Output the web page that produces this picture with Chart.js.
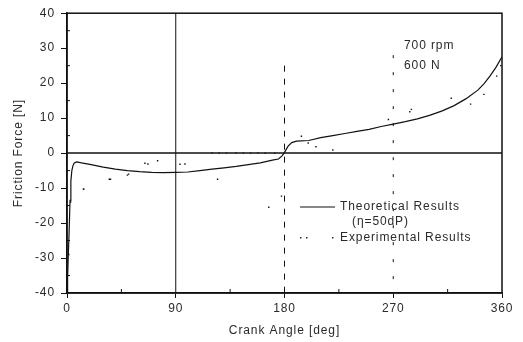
<!DOCTYPE html>
<html>
<head>
<meta charset="utf-8">
<script src="https://cdn.jsdelivr.net/npm/chart.js@4.4.1/dist/chart.umd.min.js"></script>
<style>
  html, body { margin: 0; padding: 0; background: #fff; }
  #wrap { width: 523px; height: 342px; }
</style>
</head>
<body>
<div id="wrap"><canvas id="myChart"></canvas></div>
<script>
// theoretical curve (crank angle, friction force)
const theoX = [0, 0.5, 1, 1.8, 2.5, 3.2, 4, 5, 6, 8, 12, 20, 30, 40, 50, 60, 70, 80, 90, 100, 110, 120, 130, 140, 150, 160, 170, 175, 178, 180, 183, 186, 190, 200, 210, 220, 230, 240, 250, 260, 270, 280, 290, 300, 310, 320, 330, 340, 345, 350, 355, 360];
const theoY = [-40, -36, -30, -22, -13.5, -8, -5, -3.5, -2.8, -2.5, -2.8, -3.3, -4.0, -4.6, -5.0, -5.3, -5.5, -5.6, -5.5, -5.4, -5.0, -4.6, -4.2, -3.8, -3.3, -2.8, -2.0, -1.7, -0.8, 0.2, 2.0, 3.0, 3.4, 3.6, 4.4, 5.0, 5.6, 6.2, 6.8, 7.6, 8.3, 9.0, 9.8, 10.8, 12.0, 13.5, 15.5, 18.0, 19.8, 22.0, 24.5, 27.5];

// experimental points
const expX = [1.5, 3, 14, 13.5, 35, 36, 50, 51, 64.5, 67, 75, 93.5, 97.6, 124.6, 167, 177.5, 120, 126, 132, 140, 146, 152, 158, 164, 172, 194, 199.6, 206, 220, 266, 283.7, 285, 318, 334, 345, 355.6, 359, 302, 307, 312, 318, 326, 130, 138, 148, 156, 162, 346, 352, 358];
const expY = [-29, -14, -10.3, -10.3, -7.5, -7.5, -6.3, -6, -2.9, -3.1, -2.2, -3.2, -3.1, -7.5, -15.5, -12.3, 0, 0, 0, 0, 0, 0, 0, 0, 0, 4.8, 2.9, 1.8, 0.9, 9.6, 11.8, 12.5, 15.7, 14, 16.8, 22, 25, 40, 40, 40, 40, 40, -40, -40, -40, -40, -40, -40, -40, -40];

const yTicks = [-40, -30, -20, -10, 0, 10, 20, 30, 40];
const xTicks = [0, 90, 180, 270, 360];
const xMinor = [45, 135, 225, 315];
const yMinor = [-35, -25, -15, -5, 5, 15, 25, 35];

const textColor = "#2a2a2a";
const fontFam = "'Liberation Sans', Arial, sans-serif";

const decor = {
  id: "decor",
  beforeDraw(chart) {
    chart.ctx.letterSpacing = "0.9px";
  },
  beforeDatasetsDraw(chart) {
    const { ctx, chartArea: a, scales: { x, y } } = chart;
    ctx.save();
    ctx.strokeStyle = "#111";
    // zero line
    ctx.lineWidth = 1.5;
    ctx.beginPath();
    ctx.moveTo(a.left, y.getPixelForValue(0));
    ctx.lineTo(a.right, y.getPixelForValue(0));
    ctx.stroke();
    // 90 deg line
    ctx.lineWidth = 1;
    ctx.beginPath();
    ctx.moveTo(x.getPixelForValue(90), a.top);
    ctx.lineTo(x.getPixelForValue(90), a.bottom);
    ctx.stroke();
    // 180 deg dashed
    ctx.setLineDash([6, 7]);
    ctx.beginPath();
    ctx.moveTo(x.getPixelForValue(180), y.getPixelForValue(25));
    ctx.lineTo(x.getPixelForValue(180), a.bottom);
    ctx.stroke();
    // 270 deg dashed
    ctx.setLineDash([3, 14]);
    ctx.beginPath();
    ctx.moveTo(x.getPixelForValue(270), y.getPixelForValue(28));
    ctx.lineTo(x.getPixelForValue(270), a.bottom);
    ctx.stroke();
    ctx.setLineDash([]);
    // minor inner ticks
    ctx.lineWidth = 1;
    xMinor.forEach(v => {
      const px = x.getPixelForValue(v);
      ctx.beginPath();
      ctx.moveTo(px, a.bottom);
      ctx.lineTo(px, a.bottom - 4);
      ctx.stroke();
    });
    yMinor.forEach(v => {
      const py = y.getPixelForValue(v);
      ctx.beginPath();
      ctx.moveTo(a.left, py);
      ctx.lineTo(a.left + 3, py);
      ctx.stroke();
    });
    ctx.restore();
  },
  afterDraw(chart) {
    const { ctx, chartArea: a } = chart;
    ctx.save();
    ctx.strokeStyle = "#111";
    ctx.lineWidth = 1.5;
    ctx.strokeRect(a.left, a.top, a.right - a.left, a.bottom - a.top);

    ctx.fillStyle = textColor;
    ctx.font = "12px " + fontFam;
    ctx.letterSpacing = "0.9px";
    ctx.textBaseline = "middle";
    ctx.fillText("700 rpm", 404, 46);
    ctx.fillText("600 N", 404, 66);

    // legend
    ctx.lineWidth = 1.2;
    ctx.beginPath();
    ctx.moveTo(300, 207);
    ctx.lineTo(335, 207);
    ctx.stroke();
    ctx.fillText("Theoretical Results", 340, 207);
    ctx.fillText("(\u03b7=50dP)", 352, 222);
    [300, 306, 332].forEach(px => ctx.fillRect(px, 237, 1.5, 1.5));
    ctx.fillText("Experimental Results", 340, 238);
    ctx.restore();
  }
};

new Chart(document.getElementById("myChart"), {
  type: "scatter",
  data: {
    datasets: [
      {
        label: "Theoretical Results",
        data: theoX.map((v, i) => ({ x: v, y: theoY[i] })),
        showLine: true,
        borderColor: "#111",
        borderWidth: 1.2,
        pointRadius: 0,
        tension: 0
      },
      {
        label: "Experimental Results",
        data: expX.map((v, i) => ({ x: v, y: expY[i] })),
        showLine: false,
        backgroundColor: "#111",
        borderWidth: 0,
        pointRadius: 1,
        pointStyle: "rect"
      }
    ]
  },
  options: {
    responsive: true,
    maintainAspectRatio: false,
    animation: false,
    layout: { padding: { left: 0, right: 21, top: 12, bottom: 0 } },
    plugins: { legend: { display: false }, tooltip: { enabled: false } },
    scales: {
      x: {
        type: "linear",
        min: 0,
        max: 360,
        afterFit: s => { s.height = 49; },
        afterBuildTicks: s => { s.ticks = xTicks.map(v => ({ value: v })); },
        ticks: { color: textColor, font: { size: 12, family: fontFam }, padding: 3, maxRotation: 0 },
        grid: { drawOnChartArea: false, tickLength: 5, color: "#111" },
        border: { color: "#111", width: 1.5 },
        title: { display: true, text: "Crank Angle [deg]", color: textColor, font: { size: 12, family: fontFam }, padding: { top: 3 } }
      },
      y: {
        min: -40,
        max: 40,
        afterFit: s => { s.width = 67; },
        afterBuildTicks: s => { s.ticks = yTicks.map(v => ({ value: v })); },
        ticks: { color: textColor, font: { size: 12, family: fontFam }, padding: 6 },
        grid: { drawOnChartArea: false, tickLength: 6, color: "#111" },
        border: { color: "#111", width: 1.5 },
        title: { display: true, text: "Friction Force [N]", color: textColor, font: { size: 12, family: fontFam }, padding: { top: 11 } }
      }
    }
  },
  plugins: [decor]
});
</script>
</body>
</html>
